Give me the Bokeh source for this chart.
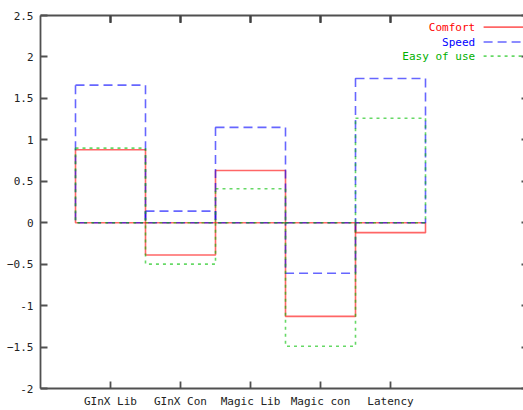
from bokeh.plotting import figure
from bokeh.models import Range1d, LinearAxis, FixedTicker
from bokeh.core.properties import value
from bokeh.embed import file_html
from bokeh.resources import INLINE

# Scores per category for each criterion
categories = ["GInX Lib", "GInX Con", "Magic Lib", "Magic con", "Latency"]
comfort = [0.88, -0.39, 0.63, -1.13, -0.12]
speed = [1.66, 0.14, 1.15, -0.61, 1.74]
easy_of_use = [0.90, -0.50, 0.41, -1.49, 1.26]

series_names = ["Comfort", "Speed", "Easy of use"]
y_ticks = [-2, -1.5, -1, -0.5, 0, 0.5, 1, 1.5, 2, 2.5]

FONT = "DejaVu Sans Mono"
AXIS_COLOR = "#505050"
Y_MIN, Y_MAX = -2, 2.5

p = figure(width=523, height=410, output_backend="svg", toolbar_location=None,
           x_range=Range1d(0, 6.9), y_range=Range1d(Y_MIN, Y_MAX),
           min_border_left=40, min_border_right=0, min_border_top=15,
           min_border_bottom=21)
p.outline_line_color = None
p.grid.visible = False

xs = list(range(1, len(categories) + 1))

styles = [
    dict(color="red", dash="solid", text="#ff0000"),
    dict(color="blue", dash="9 5", text="#0000ff"),
    dict(color="#00c000", dash="3 4", text="#00b000"),
]

for vals, st in zip([comfort, speed, easy_of_use], styles):
    p.quad(left=[x - 0.5 for x in xs], right=[x + 0.5 for x in xs],
           bottom=[0] * len(xs), top=vals,
           fill_alpha=0, line_color=st["color"], line_alpha=0.6,
           line_width=1.6, line_dash=st["dash"])

# Key in the upper right corner: label, then line sample
key_text_x = 6.21
key_line_x = [6.33, 7.0]
key_rows_y = [2.36, 2.18, 2.01]
for name, st, ky in zip(series_names, styles, key_rows_y):
    p.text(x=[key_text_x], y=[ky], text=[name], text_align="right",
           text_baseline="middle", text_color=st["text"],
           text_font=value(FONT), text_font_size="11px")
    p.line(x=key_line_x, y=[ky, ky], line_color=st["color"], line_alpha=0.6,
           line_width=1.6, line_dash=st["dash"])

# Category ticks hanging from the top border
p.segment(x0=xs, y0=[Y_MAX] * len(xs), x1=xs, y1=[Y_MAX - 0.09] * len(xs),
          line_color="#404040", line_width=2)

def style_axis(ax):
    ax.axis_line_color = AXIS_COLOR
    ax.axis_line_width = 1.8
    ax.major_tick_line_color = AXIS_COLOR
    ax.major_tick_line_width = 1.8
    ax.major_tick_in = 7
    ax.major_tick_out = 0
    ax.minor_tick_line_color = None
    ax.major_label_text_font = FONT
    ax.major_label_text_font_size = "11px"
    ax.major_label_text_color = "#222222"

# Left axis
yax = p.yaxis[0]
yax.ticker = FixedTicker(ticks=y_ticks)
yax.major_label_overrides = {-2: "-2", -1: "-1", 0: "0", 1: "1", 2: "2"}
style_axis(yax)
yax.major_label_standoff = 7

# Bottom axis with category names
xax = p.xaxis[0]
xax.ticker = FixedTicker(ticks=xs)
xax.major_label_overrides = {x: c for x, c in zip(xs, categories)}
style_axis(xax)
xax.major_label_standoff = 6

# Top border with mirrored category ticks (ticks given as minor ticks, no labels)
top = LinearAxis(ticker=FixedTicker(ticks=[], minor_ticks=xs))
top.axis_line_color = AXIS_COLOR
top.axis_line_width = 1.8
top.minor_tick_line_color = "#404040"
top.minor_tick_line_width = 2
top.minor_tick_in = 7
top.minor_tick_out = 0
p.add_layout(top, "above")

# Mirrored value ticks at the right edge of the page
right = LinearAxis(ticker=FixedTicker(ticks=[], minor_ticks=y_ticks))
right.axis_line_color = None
right.minor_tick_line_color = AXIS_COLOR
right.minor_tick_line_width = 1.8
right.minor_tick_in = 2
right.minor_tick_out = 0
p.add_layout(right, "right")

out = file_html(p, INLINE)
open("out.html", "w").write(out)
